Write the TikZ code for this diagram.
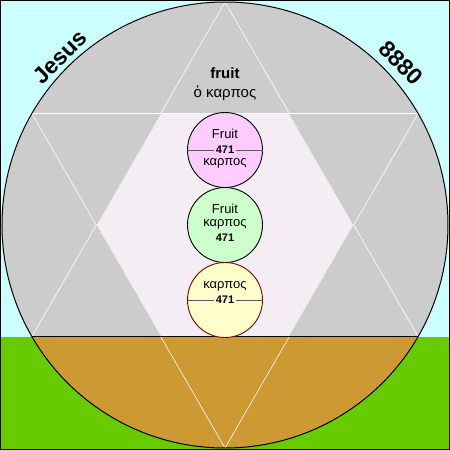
\documentclass[tikz,border=0pt]{standalone}
\usepackage{fontspec}
\setmainfont{Liberation Sans}
\usetikzlibrary{calc}
\definecolor{skyc}{HTML}{CCFFFF}
\definecolor{grass}{HTML}{66CC00}
\definecolor{disc}{HTML}{CCCCCC}
\definecolor{earth}{HTML}{CC9933}
\definecolor{hexfill}{HTML}{F4EEF4}
\definecolor{pinkb}{HTML}{FFCCFF}
\definecolor{greenb}{HTML}{CCFFCC}
\definecolor{yellowb}{HTML}{FFFFCC}
\definecolor{rim}{HTML}{800000}
\tikzset{
  ball/.style={circle, draw, line width=0.9pt, minimum size=75pt, inner sep=0pt},
  txt/.style={font=\fontsize{13}{15}\selectfont, inner sep=1pt},
  num/.style={font=\bfseries\fontsize{11}{13}\selectfont, inner sep=1.5pt},
  rule/.style={draw=black!65, line width=0.6pt},
  corner/.style={font=\bfseries\fontsize{23}{26}\selectfont, inner sep=0pt}
}
\begin{document}
\begin{tikzpicture}[x=1pt, y=1pt]
\useasboundingbox (-225,-225) rectangle (225,225);
\def\R{223}
% sky and ground
\fill[skyc] (-225,-111.5) rectangle (225,225);
\fill[grass] (-225,-225) rectangle (225,-111.5);
\draw[line width=0.8pt] (-224.6,-224.6) rectangle (224.6,224.6);
% the disc
\begin{scope}
\clip (0,0) circle (\R);
\fill[disc] (-225,-111.5) rectangle (225,225);
\fill[earth] (-225,-225) rectangle (225,-111.5);
\end{scope}
\fill[hexfill, draw=black!70, line width=0.6pt] (0:128.75) -- (60:128.75) -- (120:128.75) -- (180:128.75) -- (240:128.75) -- (300:128.75) -- cycle;
% star
\draw[white, line width=0.6pt] (90:\R) -- (210:\R) -- (330:\R) -- cycle;
\draw[white, line width=0.6pt] (270:\R) -- (30:\R) -- (150:\R) -- cycle;
\draw[line width=0.7pt] (210:\R) -- (330:\R);
\draw[line width=1pt] (0,0) circle (\R);
% words
\node[corner, rotate=45] (jesus) at (-165,168) {Jesus};
\node[corner, rotate=-45] (total) at (176,162) {8880};
\node[font=\bfseries\fontsize{15}{18}\selectfont] (fruit) at (0,152) {fruit};
\node[font=\fontsize{15}{18}\selectfont] (karpos) at (0,132) {ὁ καρπος};
% upper ball
\node[ball, fill=pinkb] (upper) at (0,75) {};
\draw[rule] (upper.west) -- (upper.east);
\node[txt] (upperword) at (0,91) {Fruit};
\node[num, fill=pinkb] (uppernum) at (upper) {471};
\node[txt] (uppergreek) at (0,62) {καρπος};
% middle ball
\node[ball, fill=greenb] (middle) at (0,0) {};
\node[txt] (middleword) at (0,16) {Fruit};
\node[txt] (middlegreek) at (0,1) {καρπος};
\node[num] (middlenum) at (0,-13) {471};
% lower ball
\node[ball, draw=rim, fill=yellowb] (lower) at (0,-75) {};
\draw[rule] (lower.west) -- (lower.east);
\node[txt] (lowergreek) at (0,-61) {καρπος};
\node[num, fill=yellowb] (lowernum) at (lower) {471};
\end{tikzpicture}
\end{document}
